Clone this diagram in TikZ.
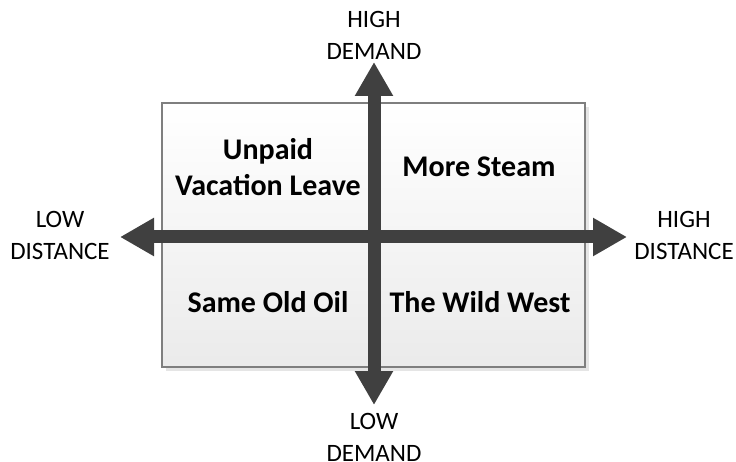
\documentclass[tikz,border=0pt]{standalone}
\usepackage{fontspec}
\setmainfont{Carlito}
\usetikzlibrary{arrows.meta}
\definecolor{axisgray}{HTML}{404040}
\definecolor{framegray}{HTML}{7F7F7F}
\tikzset{
  quadtext/.style={font=\bfseries\fontsize{30}{36}\selectfont, align=center, text=black},
  axislabel/.style={font=\fontsize{25}{32}\selectfont, align=center, text=black},
  axisarrow/.style={draw=axisgray, line width=13pt,
    -{Triangle[width=36pt,length=34pt]}}
}
\begin{document}
\begin{tikzpicture}[x=1pt,y=-1pt]
  \useasboundingbox (0,0) rectangle (736,462);
  % matrix panel with soft shadow and vertical shading
  \fill[black!10] (166,107) rectangle (589,371);
  \shade[top color=white, bottom color=black!8, draw=framegray, line width=1.1pt]
    (162,103) rectangle (585,367);
  % quadrant titles
  \node[quadtext] (q1) at (268,167) {Unpaid\\Vacation Leave};
  \node[quadtext] (q2) at (479,167) {More Steam};
  \node[quadtext] (q3) at (268,302) {Same Old Oil};
  \node[quadtext] (q4) at (480,302) {The Wild West};
  % axes
  \coordinate (c) at (374,237);
  \coordinate (n) at (374,62);
  \coordinate (s) at (374,405);
  \coordinate (w) at (120,237);
  \coordinate (e) at (627,237);
  \draw[axisarrow] (c) -- (n);
  \draw[axisarrow] (c) -- (s);
  \draw[axisarrow] (c) -- (w);
  \draw[axisarrow] (c) -- (e);
  \fill[axisgray] (c) circle (8.5);
  % axis labels
  \node[axislabel] (hd) at (374,35) {HIGH\\DEMAND};
  \node[axislabel] (ld) at (374,437) {LOW\\DEMAND};
  \node[axislabel] (lx) at (60,235) {LOW\\DISTANCE};
  \node[axislabel] (hx) at (684,235) {HIGH\\DISTANCE};
\end{tikzpicture}
\end{document}
